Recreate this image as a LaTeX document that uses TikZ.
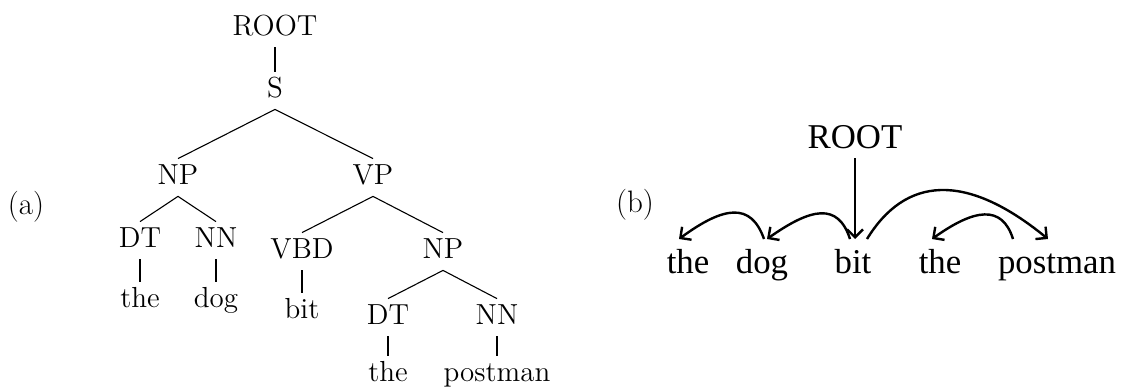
\documentclass[tikz,border=0pt]{standalone}
\usepackage{fontspec}
\newfontfamily\depfont{Liberation Serif}
\usetikzlibrary{arrows.meta}
\tikzset{
  cat/.style={font=\fontsize{14.5}{17}\selectfont, anchor=base, inner sep=2.5pt, text height=10pt, text depth=3.5pt},
  panel/.style={font=\fontsize{15.5}{18}\selectfont, anchor=base},
  branch/.style={line width=0.55pt},
  word/.style={font=\depfont\fontsize{17.4}{20}\selectfont, anchor=base, inner sep=0pt, text height=12pt, outer sep=5pt},
  dep/.style={line width=1.2pt, -{Straight Barb[length=4pt,width=8pt]}},
}
\begin{document}
\begin{tikzpicture}[x=0.5pt,y=-0.5pt]
    \useasboundingbox (0,0) rectangle (1144,387);

    % (a) phrase structure tree
    \node[panel] (labela) at (26,214) {(a)};
    \node[cat] (root) at (275,35) {ROOT};
    \node[cat] (s) at (275,97) {S};
    \node[cat] (np) at (178,184) {NP};
    \node[cat] (vp) at (373,184) {VP};
    \node[cat] (dt) at (140,247) {DT};
    \node[cat] (nn) at (216,247) {NN};
    \node[cat] (the) at (140,307) {the};
    \node[cat] (dog) at (216,307) {dog};
    \node[cat] (vbd) at (302,258) {VBD};
    \node[cat] (npb) at (443,258) {NP};
    \node[cat] (bit) at (302,318) {bit};
    \node[cat] (dtb) at (388,324) {DT};
    \node[cat] (nnb) at (497,324) {NN};
    \node[cat] (theb) at (388,381) {the};
    \node[cat] (postman) at (497,381) {postman};

    \draw[branch] (root.south) -- (s.north);
    \draw[branch] (np.north) -- (s.south) -- (vp.north);
    \draw[branch] (dt.north) -- (np.south) -- (nn.north);
    \draw[branch] (dt.south) -- (the.north);
    \draw[branch] (nn.south) -- (dog.north);
    \draw[branch] (vbd.north) -- (vp.south) -- (npb.north);
    \draw[branch] (vbd.south) -- (bit.north);
    \draw[branch] (dtb.north) -- (npb.south) -- (nnb.north);
    \draw[branch] (dtb.south) -- (theb.north);
    \draw[branch] (nnb.south) -- (postman.north);

    % (b) dependency tree
    \node[panel] (labelb) at (635,212) {(b)};
    \node[word] (droot) at (855,148) {ROOT};
    \node[word] (dthe) at (688,273) {the};
    \node[word] (ddog) at (762,273) {dog};
    \node[word] (dbit) at (853,273) {bit};
    \node[word] (dtheb) at (940,273) {the};
    \node[word] (dpostman) at (1057,273) {postman};

    \draw[dep] (droot.south) -- (droot.south |- dbit.north);
    \draw[dep] ([xshift=1pt]ddog.north) .. controls +(-13,-37) and +(45,-33) .. ([xshift=-4.5pt]dthe.north);
    \draw[dep] ([xshift=-1.5pt]dbit.north) .. controls +(-12,-37) and +(44,-31) .. ([xshift=2.5pt]ddog.north);
    \draw[dep] ([xshift=7pt]dbit.north) .. controls +(38,-62) and +(-83,-68) .. ([xshift=-4.5pt]dpostman.north);
    \draw[dep] ([xshift=-22pt]dpostman.north) .. controls +(-11,-35) and +(42,-30) .. ([xshift=-4pt]dtheb.north);
\end{tikzpicture}
\end{document}
